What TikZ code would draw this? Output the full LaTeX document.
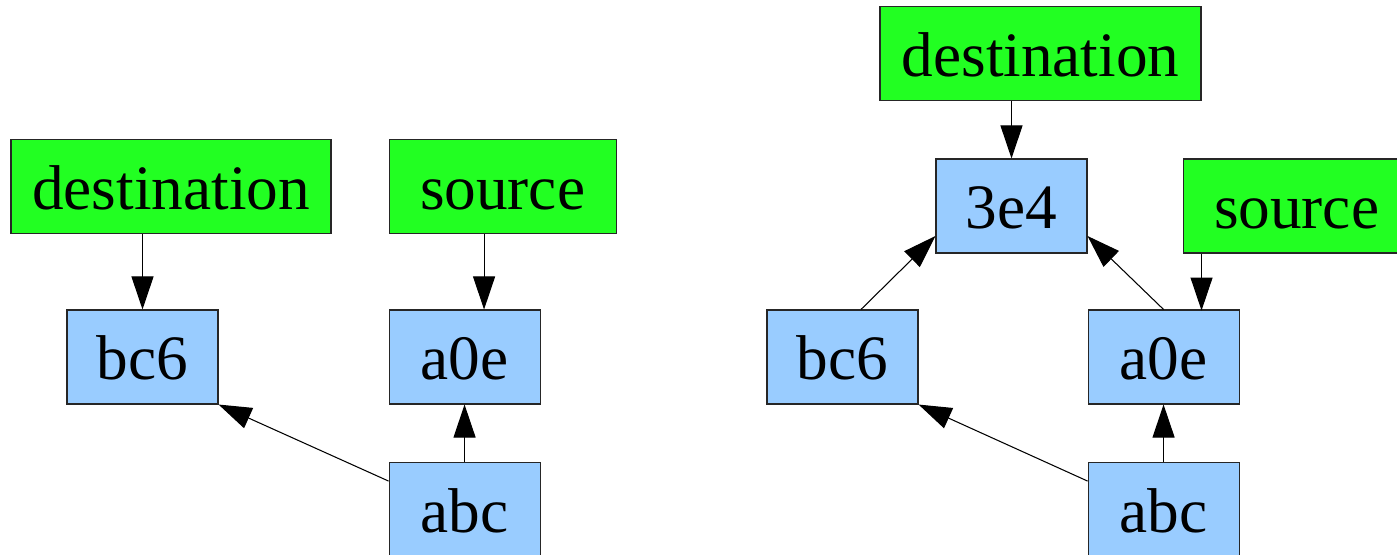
\documentclass[tikz,border=0pt]{standalone}
\usepackage{fontspec}
\setmainfont{Liberation Serif}
\usepackage{tikz}
\usetikzlibrary{positioning,arrows.meta}

\definecolor{termgreen}{RGB}{34,255,34}
\definecolor{commitblue}{RGB}{153,204,255}

\begin{document}
\begin{tikzpicture}[
      font=\fontsize{36}{40}\selectfont,
      blk/.style={draw=black!85, line width=0.6pt, fill=commitblue, minimum width=3.02cm, minimum height=1.88cm, text height=1.4cm, text depth=0.48cm, inner sep=0pt},
      lbl/.style={draw=black!85, line width=0.6pt, fill=termgreen, minimum height=1.88cm, text height=1.4cm, text depth=0.48cm, inner sep=0pt},
      arrow/.style={-{Triangle[length=0.66cm,width=0.44cm]}, line width=0.6pt}
    ]
    \useasboundingbox (0,0) rectangle (27.94,11.08);
    \clip (0,0) rectangle (27.94,11.08);

    % before: two separate heads
    \node[blk]                                   (bcL)  at (2.85,3.94) {bc6};
    \node[blk, right=3.4cm of bcL]               (aeL)  {a0e};
    \node[blk, below=1.14cm of aeL]              (abcL) {abc};
    \node[lbl, minimum width=6.4cm, above=1.5cm of bcL, xshift=0.57cm] (dstL) {destination};
    \node[lbl, minimum width=4.54cm, above right=1.5cm and 0cm of aeL.north west] (srcL) {source};

    \draw[arrow] (dstL.south -| bcL.north) -- (bcL.north);
    \draw[arrow] ([xshift=-0.37cm]srcL.south) -- ++(0,-1.5);
    \draw[arrow] (abcL.north) -- (aeL.south);
    \draw[arrow] ([yshift=0.56cm]abcL.west) -- (bcL.south east);

    % after: merge commit on top
    \node[blk]                                   (bcR)  at (16.85,3.94) {bc6};
    \node[blk, right=3.38cm of bcR]              (aeR)  {a0e};
    \node[blk, below=1.14cm of aeR]              (abcR) {abc};
    \node[blk]                                   (mrg)  at (20.23,6.96) {3e4};
    \node[lbl, minimum width=6.42cm, above=1.14cm of mrg, xshift=0.58cm] (dstR) {destination};
    \node[lbl, minimum width=4.54cm, right=1.9cm of mrg] (srcR) {source};

    \draw[arrow] (dstR.south -| mrg.north) -- (mrg.north);
    \draw[arrow] ([xshift=0.38cm]srcR.south west) -- ++(0,-1.14);
    \draw[arrow] (aeR.north) -- ([yshift=-0.6cm]mrg.east);
    \draw[arrow] ([xshift=0.37cm]bcR.north) -- ([yshift=-0.6cm]mrg.west);
    \draw[arrow] (abcR.north) -- (aeR.south);
    \draw[arrow] ([yshift=0.56cm]abcR.west) -- (bcR.south east);
  \end{tikzpicture}
\end{document}
